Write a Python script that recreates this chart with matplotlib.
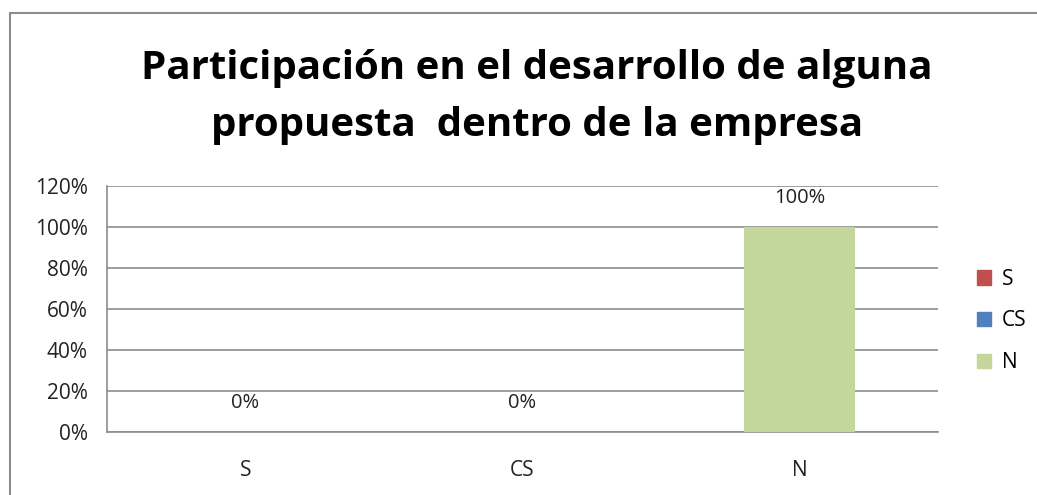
import matplotlib.pyplot as plt
from matplotlib.patches import Rectangle, Patch
from matplotlib.ticker import FuncFormatter

categorias = ['S', 'CS', 'N']
valores = [0, 0, 1.0]
colores = ['#C0504D', '#4F81BD', '#C3D69B']
titulo = 'Participación en el desarrollo de alguna\npropuesta  dentro de la empresa'

plt.rcParams['font.family'] = ['Open Sans', 'DejaVu Sans']

fig = plt.figure(figsize=(10.37, 4.95), dpi=100)
# marco del grafico
fig.patches.append(Rectangle((10/1037, -0.1), 1.2, 1 - 13/495 + 0.1, transform=fig.transFigure,
                             fill=False, edgecolor='#8c8c8c', linewidth=1.5))

ax = fig.add_axes([107/1037, 1 - 432/495, 831/1037, 246/495])
x = range(len(categorias))
ax.bar(x, valores, width=0.4, color=colores, zorder=3)
for i, v in enumerate(valores):
    ax.annotate(f'{v*100:.0f}%', (i, v), xytext=(0, 29), textcoords='offset pixels',
                ha='center', va='center', fontsize=14.5, color='#222222')

ax.set_xlim(-0.5, 2.5)
ax.set_ylim(0, 1.2)
ax.set_yticks([0, 0.2, 0.4, 0.6, 0.8, 1.0, 1.2])
ax.yaxis.set_major_formatter(FuncFormatter(lambda v, p: f'{v*100:.0f}%'))
ax.set_xticks(list(x))
ax.set_xticklabels(categorias)
ax.tick_params(axis='both', length=0, labelsize=15, colors='#222222')
ax.tick_params(axis='x', pad=20)
ax.tick_params(axis='y', pad=14)
ax.grid(axis='y', color='#8c8c8c', linewidth=1.2, zorder=0)
for s in ['top', 'right']:
    ax.spines[s].set_visible(False)
for s in ['left', 'bottom']:
    ax.spines[s].set_color('#8c8c8c')
    ax.spines[s].set_linewidth(1.2)

fig.text(0.518, 1 - 97/495, titulo, ha='center', va='center', fontsize=29,
         fontweight='bold', linespacing=1.62)

handles = [Patch(color=c, label=l) for c, l in zip(colores, categorias)]
fig.legend(handles=handles, loc='center left', bbox_to_anchor=(958/1037, 1 - 321/495),
           frameon=False, fontsize=15, handlelength=0.7, handleheight=0.7,
           handletextpad=0.5, labelspacing=1.0)

fig.savefig('out.png', dpi=100)
